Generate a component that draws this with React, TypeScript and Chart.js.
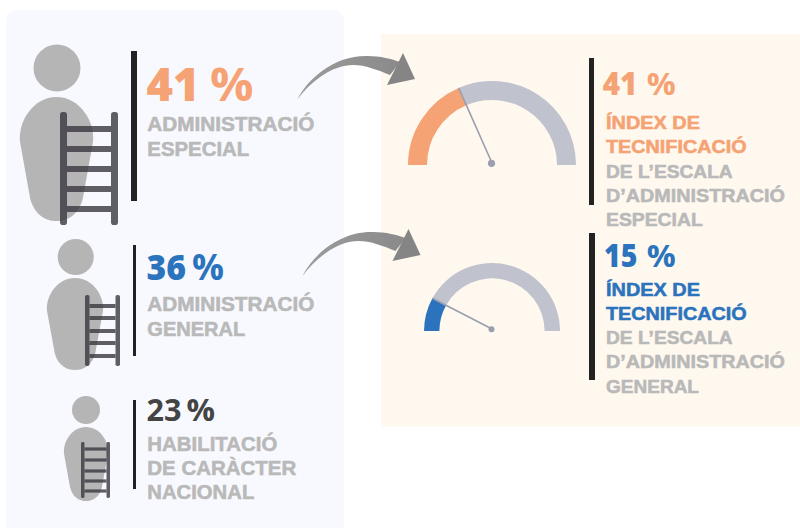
import React, { useEffect, useRef } from "react";
import { Chart, registerables } from "chart.js";

Chart.register(...registerables);

// Printed percentages
const shareValues = ["41", "36", "23"];
const indexValues = ["41", "15"];

// Gauge fill as read from the drawn arcs (share of the half circle)
const gaugeFilled = [37, 16];
const gaugeRest = [63, 84];

const shareLabels = [
  ["ADMINISTRACIÓ", "ESPECIAL"],
  ["ADMINISTRACIÓ", "GENERAL"],
  ["HABILITACIÓ", "DE CARÀCTER", "NACIONAL"],
];
const indexLabels = [
  ["ÍNDEX DE", "TECNIFICACIÓ", "DE L’ESCALA", "D’ADMINISTRACIÓ", "ESPECIAL"],
  ["ÍNDEX DE", "TECNIFICACIÓ", "DE L’ESCALA", "D’ADMINISTRACIÓ", "GENERAL"],
];

const ORANGE = "#F5A274";
const BLUE = "#2B74BD";
const DARK = "#444444";
const LABEL = "#B9B9B9";
const TRACK = "#C0C3CE";
const BAR = "#222222";
const NUM_FONT = "'Open Sans', sans-serif";
const LABEL_FONT = "'Liberation Sans', Arial, sans-serif";

const needlePlugin = {
  id: "needle",
  afterDatasetsDraw(chart: any) {
    const arc = chart.getDatasetMeta(0).data[0];
    const { x, y, outerRadius, endAngle } = arc;
    const dot = outerRadius > 75 ? 3.6 : 3;
    const ctx = chart.ctx;
    ctx.save();
    ctx.strokeStyle = "#9A9EAE";
    ctx.lineWidth = 1.6;
    ctx.beginPath();
    ctx.moveTo(x, y - 2);
    ctx.lineTo(x + Math.cos(endAngle) * outerRadius, y + Math.sin(endAngle) * outerRadius);
    ctx.stroke();
    ctx.fillStyle = "#9A9EAE";
    ctx.beginPath();
    ctx.arc(x - 0.5, y - 1.7, dot, 0, Math.PI * 2);
    ctx.fill();
    ctx.restore();
  },
};

function Gauge(props: {
  filled: number;
  rest: number;
  color: string;
  left: number;
  top: number;
  radius: number;
  cutout: string;
}) {
  const ref = useRef<HTMLCanvasElement>(null);
  useEffect(() => {
    const chart = new Chart(ref.current as HTMLCanvasElement, {
      type: "doughnut",
      data: {
        labels: ["Índex", "Resta"],
        datasets: [
          {
            data: [props.filled, props.rest],
            backgroundColor: [props.color, TRACK],
            borderWidth: 0,
          },
        ],
      },
      options: {
        responsive: false,
        animation: false,
        rotation: -90,
        circumference: 180,
        cutout: props.cutout,
        layout: { padding: { bottom: 6 } },
        plugins: { legend: { display: false }, tooltip: { enabled: false } },
      },
      plugins: [needlePlugin],
    } as any);
    return () => chart.destroy();
  }, []);
  return (
    <canvas
      ref={ref}
      width={props.radius * 2}
      height={props.radius + 6}
      style={{ position: "absolute", left: props.left, top: props.top }}
    />
  );
}

function T(p: {
  x: number;
  y: number;
  w: number;
  size: number;
  fill: string;
  font?: string;
  weight?: number;
  children: string;
}) {
  const isLabel = !p.font;
  return (
    <text
      x={p.x}
      y={p.y}
      textLength={p.w}
      lengthAdjust="spacingAndGlyphs"
      fontSize={p.size}
      fill={p.fill}
      stroke={isLabel ? p.fill : "none"}
      strokeWidth={isLabel ? 0.55 : 0}
      fontFamily={p.font || LABEL_FONT}
      fontWeight={p.weight || 700}
    >
      {p.children}
    </text>
  );
}

function Person(p: {
  hx: number;
  hy: number;
  hr: number;
  bx: number;
  by: number;
  bw: number;
  bh: number;
  lx: number;
  ly: number;
  lw: number;
  lh: number;
  rail: number;
  rung: number;
  rungs: number[];
}) {
  const { bx, by, bw, bh } = p;
  const body = [
    `M${bx + bw * 0.5} ${by}`,
    `C${bx + bw * 0.82} ${by} ${bx + bw * 1.03} ${by + bh * 0.2} ${bx + bw} ${by + bh * 0.36}`,
    `L${bx + bw * 0.86} ${by + bh * 0.82}`,
    `C${bx + bw * 0.8} ${by + bh * 0.95} ${bx + bw * 0.65} ${by + bh} ${bx + bw * 0.5} ${by + bh}`,
    `C${bx + bw * 0.35} ${by + bh} ${bx + bw * 0.2} ${by + bh * 0.95} ${bx + bw * 0.14} ${by + bh * 0.82}`,
    `L${bx} ${by + bh * 0.36}`,
    `C${bx - bw * 0.03} ${by + bh * 0.2} ${bx + bw * 0.18} ${by} ${bx + bw * 0.5} ${by}`,
    "Z",
  ].join(" ");
  const ink = "rgba(58,55,62,0.8)";
  return (
    <g>
      <circle cx={p.hx} cy={p.hy} r={p.hr} fill="#B5B5B5" />
      <path d={body} fill="#B5B5B5" />
      <rect x={p.lx} y={p.ly} width={p.rail} height={p.lh} rx={p.rail / 2.5} fill={ink} />
      <rect x={p.lx + p.lw - p.rail} y={p.ly} width={p.rail} height={p.lh} rx={p.rail / 2.5} fill={ink} />
      {p.rungs.map((r) => (
        <rect
          key={r}
          x={p.lx + p.rail}
          y={r - p.rung / 2}
          width={p.lw - 2 * p.rail}
          height={p.rung}
          fill={ink}
        />
      ))}
    </g>
  );
}

function Arrow(p: { dx: number; dy: number }) {
  return (
    <g transform={`translate(${p.dx} ${p.dy})`}>
      <path
        d="M297 100 C308 78 335 55 368 56 C380 56 392 59 400 62 L390 75 C378 70 365 65 353 65 C333 65 312 80 297 100 Z"
        fill="url(#arrowFill)"
      />
      <path d="M403 53 L415 79 L387 85 Z" fill="#858585" />
    </g>
  );
}

export default function App() {
  return (
    <div
      style={{
        position: "absolute",
        left: 0,
        top: 0,
        width: 800,
        height: 528,
        overflow: "hidden",
        background: "#fff",
      }}
    >
      <svg width={800} height={528} style={{ position: "absolute", left: 0, top: 0 }}>
        <defs>
          <linearGradient id="arrowFill" x1="0" y1="0" x2="1" y2="0">
            <stop offset="0" stopColor="#9C9C9C" />
            <stop offset="1" stopColor="#8A8A8A" />
          </linearGradient>
        </defs>
        <rect x={6} y={10} width={338} height={560} rx={11} fill="#F8F9FE" />
        <rect x={381} y={34} width={419} height={393} fill="#FEF8EE" />

        <Person hx={57} hy={68} hr={23.5} bx={20} by={97} bw={73} bh={124}
          lx={60} ly={112} lw={58} lh={113} rail={7} rung={6} rungs={[129, 149, 169, 189, 209]} />
        <Person hx={75.7} hy={257} hr={18} bx={47} by={278} bw={56} bh={92}
          lx={85} ly={295} lw={35} lh={71} rail={4.5} rung={4} rungs={[306, 318, 331, 343, 356]} />
        <Person hx={86} hy={410} hr={14} bx={64} by={427} bw={44} bh={74}
          lx={81} ly={442} lw={29} lh={56} rail={3.5} rung={3.2} rungs={[449, 460, 471, 481, 491]} />

        <rect x={131} y={51} width={6} height={150} fill={BAR} />
        <rect x={133} y={245} width={3} height={111} fill={BAR} />
        <rect x={133} y={400} width={3} height={89} fill={BAR} />
        <rect x={589} y={58} width={5} height={147} fill={BAR} />
        <rect x={589} y={233} width={6} height={147} fill={BAR} />

        <Arrow dx={0} dy={0} />
        <Arrow dx={5.5} dy={176} />

        <T x={146.5} y={100.7} w={53} size={46} weight={800} fill={ORANGE} font={NUM_FONT}>{shareValues[0]}</T>
        <T x={210} y={100.7} w={43.5} size={46} weight={700} fill={ORANGE} font={NUM_FONT}>%</T>
        <T x={146.5} y={280} w={39.5} size={36} weight={800} fill={BLUE} font={NUM_FONT}>{shareValues[1]}</T>
        <T x={192} y={280} w={32} size={36} weight={700} fill={BLUE} font={NUM_FONT}>%</T>
        <T x={146.5} y={421.3} w={35} size={31} fill={DARK} font={NUM_FONT}>{shareValues[2]}</T>
        <T x={186.5} y={421.3} w={28.5} size={31} fill={DARK} font={NUM_FONT}>%</T>

        <T x={147.3} y={130.7} w={167} size={19.5} fill={LABEL}>{shareLabels[0][0]}</T>
        <T x={147.3} y={155.7} w={102} size={19.5} fill={LABEL}>{shareLabels[0][1]}</T>
        <T x={147.3} y={310.7} w={167} size={19.5} fill={LABEL}>{shareLabels[1][0]}</T>
        <T x={147.3} y={335.7} w={98} size={19.5} fill={LABEL}>{shareLabels[1][1]}</T>
        <T x={147.3} y={450.7} w={130} size={19.5} fill={LABEL}>{shareLabels[2][0]}</T>
        <T x={147.3} y={474.7} w={149} size={19.5} fill={LABEL}>{shareLabels[2][1]}</T>
        <T x={147.3} y={499} w={107} size={19.5} fill={LABEL}>{shareLabels[2][2]}</T>

        <T x={602.7} y={95.3} w={34.6} size={31} weight={800} fill={ORANGE} font={NUM_FONT}>{indexValues[0]}</T>
        <T x={646.7} y={95.3} w={29} size={31} fill={ORANGE} font={NUM_FONT}>%</T>
        <T x={604} y={266.7} w={33.3} size={31} weight={800} fill={BLUE} font={NUM_FONT}>{indexValues[1]}</T>
        <T x={646.7} y={266.7} w={29} size={31} fill={BLUE} font={NUM_FONT}>%</T>

        <T x={606} y={128.7} w={94} size={19} fill={ORANGE}>{indexLabels[0][0]}</T>
        <T x={606} y={153.3} w={140.7} size={19} fill={ORANGE}>{indexLabels[0][1]}</T>
        <T x={606} y={177.7} w={126.7} size={19} fill={LABEL}>{indexLabels[0][2]}</T>
        <T x={606} y={201.7} w={179} size={19} fill={LABEL}>{indexLabels[0][3]}</T>
        <T x={606} y={226} w={96.7} size={19} fill={LABEL}>{indexLabels[0][4]}</T>

        <T x={606} y={295.7} w={94} size={19} fill={BLUE}>{indexLabels[1][0]}</T>
        <T x={606} y={320} w={140.7} size={19} fill={BLUE}>{indexLabels[1][1]}</T>
        <T x={606} y={344} w={126.7} size={19} fill={LABEL}>{indexLabels[1][2]}</T>
        <T x={606} y={368.3} w={179} size={19} fill={LABEL}>{indexLabels[1][3]}</T>
        <T x={606} y={392.7} w={93} size={19} fill={LABEL}>{indexLabels[1][4]}</T>
      </svg>

      <Gauge filled={gaugeFilled[0]} rest={gaugeRest[0]} color={ORANGE} left={408} top={81} radius={84} cutout="77.4%" />
      <Gauge filled={gaugeFilled[1]} rest={gaugeRest[1]} color={BLUE} left={424} top={263} radius={68} cutout="77.4%" />
    </div>
  );
}
